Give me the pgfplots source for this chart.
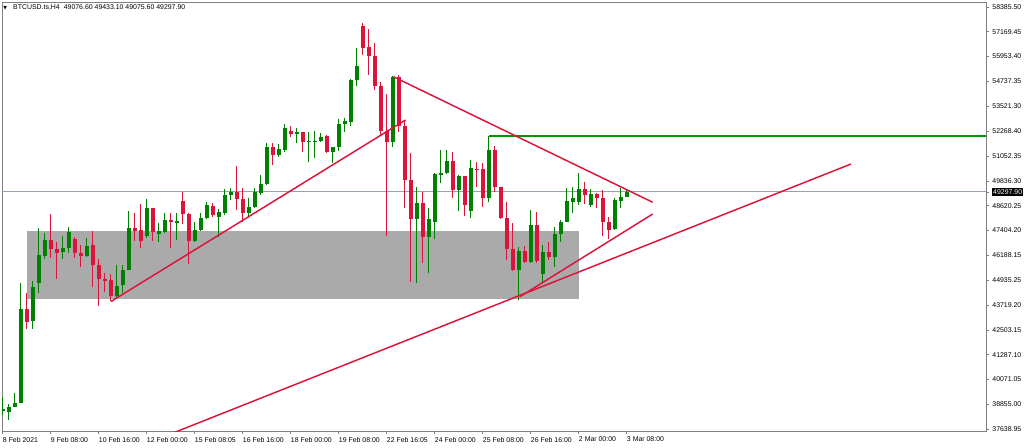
\documentclass[border=0pt]{standalone}
\usepackage{fontspec}
\setmainfont{Liberation Sans}
\newfontfamily\djv{DejaVu Sans}
\usepackage{pgfplots}
\usepackage{pgfplotstable}
\pgfplotsset{compat=1.18}

\definecolor{bull}{RGB}{0,128,0}
\definecolor{bear}{RGB}{220,20,60}
\definecolor{levelc}{RGB}{0,150,0}
\definecolor{frame}{RGB}{128,128,128}
\definecolor{zone}{RGB}{170,170,170}
\definecolor{pline}{RGB}{150,160,180}

% H4 candles, i = bar number from 8 Feb 00:00
\pgfplotstableread{
i o h l c
0 38525 39213 38328 38623
1 38490 38869 38082 38736
2 38736 39425 38707 38933
3 38933 44832 38903 43524
5 42964 44916 42541 44635
6 44832 47506 44311 46194
7 46159 47290 45982 46931
10 46327 47143 45982 46553
11 46553 47556 46307 47310
14 46159 47015 46110 46651
19 44178 45702 44065 44670
20 44719 45702 44341 45456
21 45456 48372 45456 47506
24 47128 48962 47015 48490
26 47241 47752 46848 47374
27 47339 48244 47261 47914
29 47752 48244 46931 47880
32 46882 47831 46848 47423
33 47423 48244 47374 48028
34 48028 48814 47949 48637
36 48047 48440 47054 48308
37 48244 49424 48160 49143
38 49143 49473 48898 49306
41 48244 48981 48047 48568
42 48539 49473 48519 49306
43 49227 50127 49143 49684
44 49684 51715 49635 51518
46 51110 51636 51026 51390
47 51356 52619 51272 52422
49 52142 52422 51685 52226
51 51783 52255 50780 51813
52 51764 52304 50948 51813
53 51813 52206 51764 52009
55 51272 51488 50692 51479
56 51488 52894 51316 52634
57 52619 52939 52241 52791
58 52747 54831 52535 54797
59 54797 56355 54517 55500
65 51764 54993 51488 54930
69 47964 49551 44803 48735
71 47064 48490 45294 47949
72 47801 50210 46966 50161
73 50141 51356 49748 50240
74 50210 51356 50161 50830
76 49389 50127 48372 50077
78 48372 50864 47998 50471
81 48981 52068 48814 51356
86 45456 46572 43982 46405
88 45864 48406 45786 47669
90 45245 46685 44852 46327
92 46110 47585 45619 47211
93 47211 47914 46848 47831
94 47831 49502 47800 48848
95 48814 49551 48244 48981
96 48814 50210 48652 49438
98 48652 49438 48568 49178
102 47472 48981 47423 48898
103 48848 49473 48490 49060
104 49076.6 49433.1 49075.6 49297.9
}\bulltab

\pgfplotstableread{
i o h l c
4 43539 44341 42556 42915
8 46931 48209 46032 46474
9 46474 46848 44999 46307
12 46980 47093 46032 46277
13 46277 46685 45619 46159
15 46671 47374 44635 45702
16 45702 45982 43687 44999
17 45029 45294 44390 44930
18 44965 45260 43932 44178
22 47506 48273 46897 47388
23 47423 48701 46523 46882
25 48490 48519 46897 47310
28 47914 48244 46523 47801
30 48848 49276 47703 48195
31 48195 48244 45737 46882
35 48603 48765 48077 48160
39 49306 50569 48406 48932
40 48932 49473 47831 48244
45 51518 51685 50618 51110
48 52304 52550 51980 52142
50 52226 52255 51272 51764
54 52029 52093 51223 51272
60 57451 57614 56026 56355
61 56404 57289 55043 55977
62 55977 56631 54305 54502
63 54502 54713 52093 52290
64 52290 54109 47128 51764
66 54930 55043 52255 52535
67 52535 52796 48490 49881
68 49881 51193 44881 47964
70 48735 49306 45815 47093
75 50830 51272 48981 49389
77 50077 50100 48111 48652
79 50436 50780 49551 50372
80 50407 50702 48568 48981
82 51356 51552 49306 49522
83 49522 49551 47964 47998
84 47998 48814 45948 46474
85 46474 47752 45430 45456
87 46390 46636 45786 45864
89 47669 48322 45786 45899
91 46327 46818 45948 46110
97 49438 49797 48686 49143
99 49178 49227 48490 48981
100 49011 49389 47143 47801
101 47831 48077 46980 47423
}\beartab

\begin{document}
\begin{tikzpicture}
\begin{axis}[
    scale only axis,
    width=738pt, height=321.75pt,
    xmin=-0.12, xmax=163.88,
    ymin=37541.6, ymax=58631,
    axis line style={frame, line width=0.6pt},
    tick style={frame, line width=0.5pt},
    tick align=outside,
    major tick length=2.2pt,
    xtick pos=bottom, ytick pos=right,
    yticklabel pos=right,
    xtick={0,8,16,24,32,40,48,56,64,72,80,88,96,104},
    xticklabels={8 Feb 2021,9 Feb 08:00,10 Feb 16:00,12 Feb 00:00,15 Feb 08:05,16 Feb 16:00,18 Feb 00:00,19 Feb 08:00,22 Feb 16:05,24 Feb 00:00,25 Feb 08:00,26 Feb 16:00,2 Mar 00:00,3 Mar 08:00},
    ytick={58385.50,57169.45,55953.40,54737.35,53521.30,52268.40,51052.35,49836.30,48620.25,47404.20,46188.15,44935.25,43719.20,42503.15,41287.10,40071.05,38855.00,37638.95},
    yticklabels={58385.50,57169.45,55953.40,54737.35,53521.30,52268.40,51052.35,49836.30,48620.25,47404.20,46188.15,44935.25,43719.20,42503.15,41287.10,40071.05,38855.00,37638.95},
    ticklabel style={font=\fontsize{5.2}{6}\selectfont, inner sep=0pt, text=black},
    xticklabel style={anchor=north west, yshift=-2.2pt},
    yticklabel style={anchor=west, xshift=2.4pt},
    extra y ticks={49297.9},
    extra y tick labels={49297.90},
    extra y tick style={grid=major, major grid style={pline, line width=0.7pt},
        yticklabel style={fill=black, text=white, inner xsep=1pt, inner ysep=1pt, xshift=-0.4pt}},
    clip=true,
]
% support zone
\addplot[fill=zone, draw=none] coordinates {(4,44016) (96.1,44016) (96.1,47398) (4,47398)};

% level from the 25 Feb high
\addplot[color=levelc, line width=1.3pt] table {
x y
81.05 52060
165 52060
};

% wicks
\addplot[draw=none, error bars/.cd, y dir=both, y explicit, error mark=none,
    error bar style={draw=bull, line width=0.75pt}]
    table[x=i, y=c, y error plus expr=\thisrow{h}-\thisrow{c}, y error minus expr=\thisrow{c}-\thisrow{l}] {\bulltab};
\addplot[draw=none, error bars/.cd, y dir=both, y explicit, error mark=none,
    error bar style={draw=bear, line width=0.75pt}]
    table[x=i, y=c, y error plus expr=\thisrow{h}-\thisrow{c}, y error minus expr=\thisrow{c}-\thisrow{l}] {\beartab};

% bodies
\addplot[draw=none, error bars/.cd, y dir=minus, y explicit, error mark=none,
    error bar style={draw=bull, line width=3.2pt}]
    table[x=i, y=c, y error minus expr=\thisrow{c}-\thisrow{o}+8] {\bulltab};
\addplot[draw=none, error bars/.cd, y dir=plus, y explicit, error mark=none,
    error bar style={draw=bear, line width=3.2pt}]
    table[x=i, y=c, y error plus expr=\thisrow{o}-\thisrow{c}+8] {\beartab};

% trend lines
\addplot[draw=bear, line width=1.1pt] coordinates {(18.05,43908) (67.13,52830)};
\addplot[draw=bear, line width=1.1pt] coordinates {(65.1,54959) (108.33,48785)};
\addplot[draw=bear, line width=1.1pt] coordinates {(86.2,44144) (108.33,48209)};
\addplot[draw=bear, line width=1.1pt] coordinates {(27.88,37385) (141.38,50667)};

\node[anchor=west, inner sep=0pt, xshift=0.8pt, yshift=-4.5pt, font=\djv\fontsize{3.6}{4}\selectfont] at (rel axis cs:0,1) {▼};
\node[anchor=west, inner sep=0pt, xshift=8.2pt, yshift=-4.5pt, font=\fontsize{5.2}{6}\selectfont] at (rel axis cs:0,1) {BTCUSD.ts,H4\hspace{3pt}49076.60 49433.10 49075.60 49297.90};
\end{axis}
\pgfresetboundingbox
\path[use as bounding box] ([shift={(-1.5pt,-12pt)}]current axis.south west) rectangle ([shift={(28.5pt,1.5pt)}]current axis.north east);
\end{tikzpicture}
\end{document}
